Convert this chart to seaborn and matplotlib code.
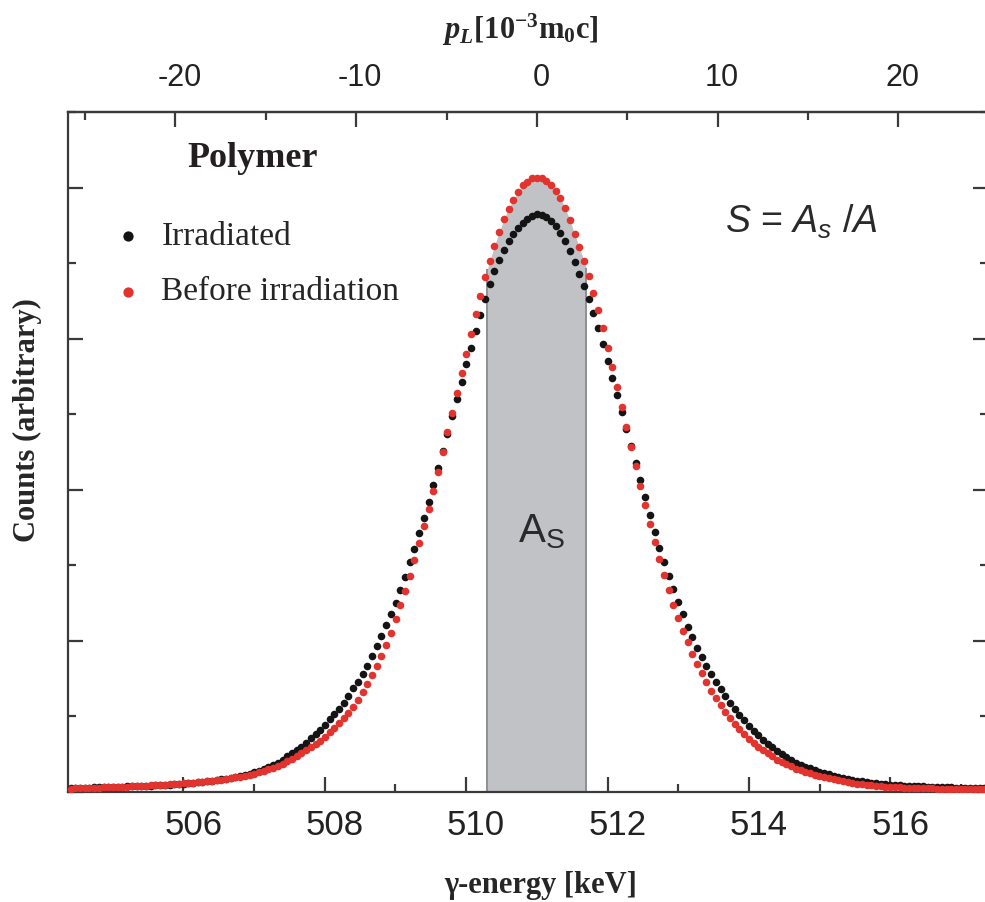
import numpy as np
import seaborn as sns
import matplotlib.pyplot as plt
from matplotlib.ticker import MultipleLocator, NullFormatter
from matplotlib.transforms import ScaledTranslation

# detector calibration of the channels shown (keV)
CHANNEL_START_KEV = 504.407
KEV_PER_CHANNEL = 0.0666

# counts per channel (arbitrary units)
before_irradiation = [
    0.046, 0.048, 0.050, 0.052, 0.054, 0.056, 0.058, 0.060, 0.062, 0.065,
    0.067, 0.070, 0.072, 0.075, 0.078, 0.081, 0.084, 0.087, 0.090, 0.094,
    0.098, 0.102, 0.106, 0.110, 0.115, 0.120, 0.125, 0.130, 0.134, 0.140,
    0.148, 0.155, 0.165, 0.175, 0.185, 0.195, 0.205, 0.215, 0.230, 0.240,
    0.260, 0.280, 0.300, 0.320, 0.345, 0.375, 0.410, 0.440, 0.475, 0.510,
    0.550, 0.590, 0.630, 0.680, 0.730, 0.790, 0.850, 0.910, 0.980, 1.050,
    1.130, 1.220, 1.320, 1.430, 1.550, 1.670, 1.800, 1.950, 2.110, 2.290,
    2.470, 2.660, 2.860, 3.070, 3.290, 3.520, 3.750, 3.990, 4.240, 4.500,
    4.760, 5.020, 5.280, 5.540, 5.800, 6.060, 6.320, 6.570, 6.810, 7.030,
    7.230, 7.410, 7.580, 7.720, 7.840, 7.940, 8.030, 8.080, 8.120,
    8.130,
    8.130, 8.090, 8.030, 7.960, 7.860, 7.730, 7.570, 7.390, 7.210, 7.030,
    6.830, 6.610, 6.380, 6.140, 5.880, 5.620, 5.360, 5.090, 4.830, 4.570,
    4.310, 4.050, 3.800, 3.550, 3.310, 3.080, 2.870, 2.670, 2.480, 2.300,
    2.130, 1.980, 1.830, 1.700, 1.570, 1.450, 1.340, 1.245, 1.145, 1.060,
    0.980, 0.900, 0.830, 0.770, 0.705, 0.645, 0.595, 0.550, 0.510, 0.470,
    0.430, 0.400, 0.370, 0.340, 0.310, 0.290, 0.270, 0.250, 0.230, 0.215,
    0.200, 0.185, 0.170, 0.155, 0.142, 0.130, 0.120, 0.112, 0.105, 0.098,
    0.090, 0.084, 0.078, 0.072, 0.066, 0.062, 0.060, 0.058, 0.056, 0.054,
    0.052, 0.050, 0.049, 0.048, 0.046, 0.045, 0.044, 0.043, 0.042, 0.041,
    0.040, 0.039, 0.038, 0.037, 0.036, 0.035,
]

irradiated = [
    0.055, 0.056, 0.057, 0.058, 0.059, 0.060, 0.062, 0.063, 0.065, 0.067,
    0.069, 0.071, 0.073, 0.075, 0.077, 0.080, 0.082, 0.085, 0.088, 0.091,
    0.094, 0.098, 0.102, 0.106, 0.110, 0.115, 0.120, 0.126, 0.132, 0.139,
    0.148, 0.158, 0.168, 0.178, 0.189, 0.200, 0.213, 0.226, 0.242, 0.260,
    0.280, 0.303, 0.328, 0.357, 0.390, 0.430, 0.470, 0.510, 0.550, 0.600,
    0.655, 0.710, 0.765, 0.825, 0.890, 0.960, 1.030, 1.100, 1.180, 1.270,
    1.370, 1.460, 1.560, 1.670, 1.800, 1.930, 2.065, 2.210, 2.350, 2.500,
    2.670, 2.850, 3.040, 3.220, 3.430, 3.630, 3.840, 4.060, 4.290, 4.510,
    4.740, 4.970, 5.200, 5.430, 5.660, 5.880, 6.100, 6.310, 6.520, 6.720,
    6.890, 7.040, 7.170, 7.290, 7.380, 7.460, 7.530, 7.590, 7.630,
    7.650,
    7.640, 7.610, 7.560, 7.490, 7.400, 7.290, 7.160, 7.010, 6.860, 6.700,
    6.530, 6.340, 6.140, 5.930, 5.710, 5.480, 5.260, 5.030, 4.800, 4.580,
    4.360, 4.130, 3.900, 3.670, 3.440, 3.230, 3.040, 2.860, 2.690, 2.520,
    2.350, 2.190, 2.050, 1.910, 1.790, 1.670, 1.560, 1.460, 1.360, 1.270,
    1.180, 1.100, 1.020, 0.950, 0.880, 0.810, 0.750, 0.690, 0.640, 0.590,
    0.545, 0.503, 0.463, 0.424, 0.390, 0.360, 0.335, 0.314, 0.290, 0.270,
    0.250, 0.232, 0.215, 0.200, 0.185, 0.170, 0.158, 0.148, 0.140, 0.132,
    0.125, 0.118, 0.111, 0.105, 0.098, 0.093, 0.089, 0.085, 0.082, 0.079,
    0.076, 0.073, 0.071, 0.069, 0.067, 0.065, 0.063, 0.061, 0.059, 0.057,
    0.055, 0.053, 0.051, 0.050, 0.049, 0.048,
]

# S-parameter window (keV)
s_window = [510.30, 511.70]

x_ticks = [506, 508, 510, 512, 514, 516]
p_ticks = [-20, -10, 0, 10, 20]


def e_to_p(e):
    """ gamma energy (keV) -> longitudinal momentum (10^-3 m0c) """
    return (np.asarray(e) - 511.0) * 2000.0 / 511.0


def p_to_e(p):
    return 511.0 + np.asarray(p) * 511.0 / 2000.0


sns.set_style("ticks")
plt.rcParams['font.family'] = ['Liberation Sans', 'DejaVu Sans']
plt.rcParams['axes.unicode_minus'] = False
plt.rcParams['mathtext.fontset'] = 'custom'
plt.rcParams['mathtext.rm'] = 'Liberation Sans'
plt.rcParams['mathtext.it'] = 'Liberation Sans:italic'
plt.rcParams['mathtext.bf'] = 'Liberation Serif:bold'
plt.rcParams['mathtext.bfit'] = 'Liberation Serif:bold:italic'

energy = CHANNEL_START_KEV + KEV_PER_CHANNEL * np.arange(len(before_irradiation))
red = np.array(before_irradiation)
black = np.array(irradiated)

fig = plt.figure(figsize=(9.85, 9.02), dpi=100)
ax = fig.add_axes([68 / 985, 110 / 902, 920 / 985, 680 / 902])

# shaded central area A_s under the reference spectrum
inside = (energy > s_window[0]) & (energy < s_window[1])
xs = np.concatenate([[s_window[0]], energy[inside], [s_window[1]]])
ys = np.interp(xs, energy, red)
ax.fill_between(xs, 0, ys, color='#c1c2c6', linewidth=0, zorder=1)
ax.vlines(s_window, 0, [ys[0], ys[-1]], color='#8f9094', linewidth=1.4, zorder=1)

sns.scatterplot(x=energy, y=black, color='#141414', s=30, linewidth=0,
                ax=ax, zorder=3, label='Irradiated')
sns.scatterplot(x=energy, y=red, color='#e2332e', s=30, linewidth=0,
                ax=ax, zorder=4, label='Before irradiation')

ax.set_xlim(504.37, 517.38)
ax.set_ylim(0, 9.0)
ax.set_xlabel('')
ax.set_ylabel('')

spine_col = '#3a3a3a'
for sp in ax.spines.values():
    sp.set_linewidth(1.6)
    sp.set_color(spine_col)

ax.set_xticks(x_ticks)
ax.xaxis.set_minor_locator(MultipleLocator(1))
ax.yaxis.set_major_locator(MultipleLocator(2))
ax.yaxis.set_minor_locator(MultipleLocator(1))
ax.yaxis.set_major_formatter(NullFormatter())
ax.tick_params(axis='both', which='both', direction='in', top=False,
               right=True, color=spine_col, width=1.6)
ax.tick_params(axis='both', which='major', length=11)
ax.tick_params(axis='both', which='minor', length=6)
ax.tick_params(axis='x', labelsize=25, pad=12, labelcolor='#222222')

secax = ax.secondary_xaxis('top', functions=(e_to_p, p_to_e))
secax.set_xticks(p_ticks)
secax.xaxis.set_minor_locator(MultipleLocator(5))
secax.tick_params(which='both', direction='in', color=spine_col, width=1.6,
                  labelsize=22, pad=14, labelcolor='#222222')
secax.tick_params(which='major', length=11)
secax.tick_params(which='minor', length=6)
secax.spines['top'].set_linewidth(1.6)
secax.spines['top'].set_color(spine_col)

# tick labels sit a little to the right of their ticks in the original
for lab in ax.get_xticklabels():
    lab.set_transform(lab.get_transform() + ScaledTranslation(0.10, 0, fig.dpi_scale_trans))
for lab in secax.get_xticklabels():
    lab.set_transform(lab.get_transform() + ScaledTranslation(0.04, 0, fig.dpi_scale_trans))

# legend
ax.legend(loc='center left', bbox_to_anchor=(0.029, 0.776), frameon=False,
          borderpad=0, handlelength=1.0, handletextpad=0.5, labelspacing=0.75,
          markerscale=1.35, prop={'family': 'Liberation Serif', 'size': 24})
ax.text(0.1293, 0.932, 'Polymer', transform=ax.transAxes, ha='left', va='center',
        family='Liberation Serif', fontweight='bold', fontsize=26, color='#231f20')

ax.text(513.66, 7.55, r'$S$ = $A_s$ /$A$', ha='left', va='center', fontsize=27,
        color='#2a2a2a', zorder=5)
ax.text(511.06, 3.45, r'$\mathrm{A}_{\mathrm{S}}$', ha='center', va='center',
        fontsize=29, color='#2a2a2a', zorder=5)

fig.text(541 / 985, 1 - 885 / 902, 'γ-energy [keV]', ha='center', va='center',
         family='Liberation Serif', fontweight='bold', fontsize=22)
fig.text(27 / 985, 1 - 420 / 902, 'Counts (arbitrary)', ha='center', va='center',
         rotation=90, family='Liberation Serif', fontweight='bold', fontsize=22)
fig.text(520 / 985, 1 - 30 / 902,
         r'$\mathbfit{p}_{\mathbfit{L}}\mathbf{[10^{-3}m_0c]}$',
         ha='center', va='center', fontsize=22)

fig.savefig('out.png', dpi=100, facecolor='white')
